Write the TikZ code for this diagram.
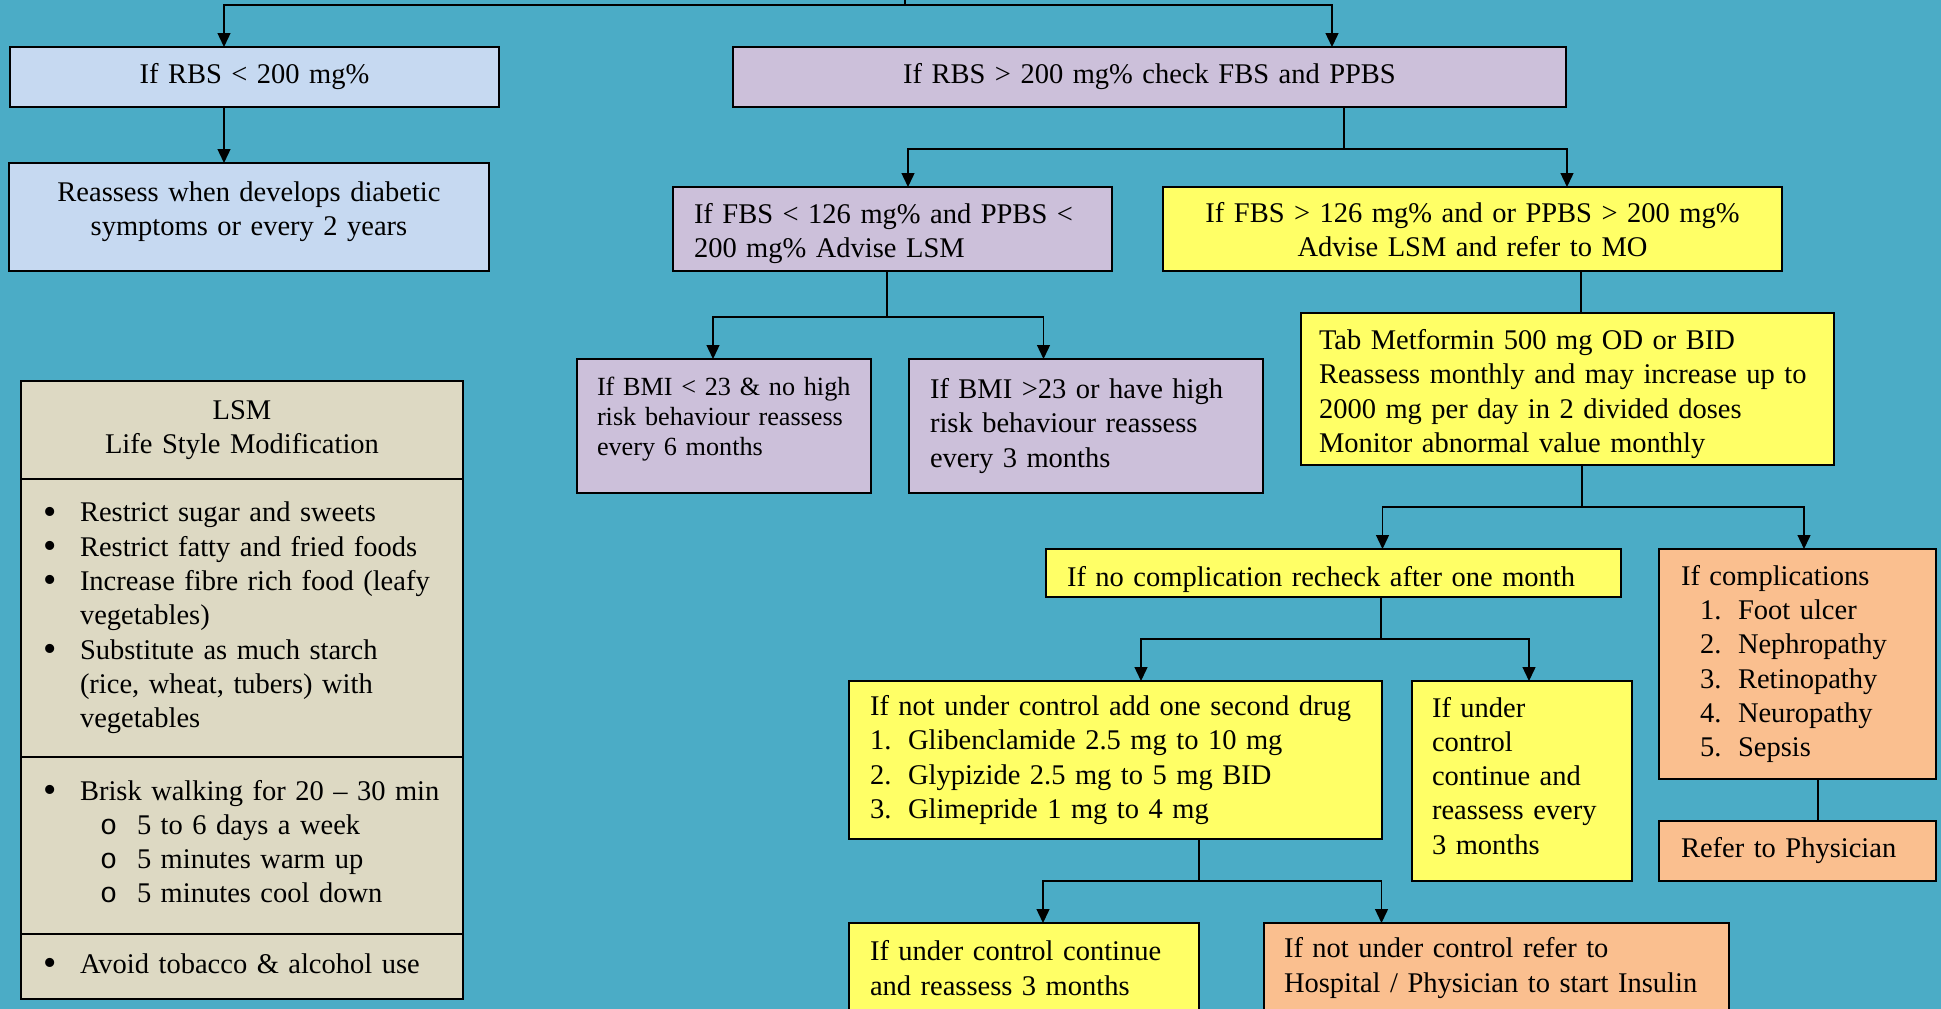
\documentclass[tikz,border=0pt]{standalone}
\usepackage{fontspec}
\setmainfont{Liberation Serif}
\setmonofont{Liberation Mono}
\usetikzlibrary{arrows.meta}

\definecolor{bgteal}{RGB}{75,172,198}
\definecolor{paleblue}{RGB}{198,217,241}
\definecolor{lavender}{RGB}{204,192,218}
\definecolor{lemon}{RGB}{255,255,102}
\definecolor{peach}{RGB}{250,191,143}
\definecolor{beige}{RGB}{221,217,195}

\newcommand{\itm}{\makebox[37pt][l]{\smash{\raisebox{-0.08em}{\fontsize{38}{34}\selectfont\textbullet}}}}
\newcommand{\cont}{\hspace*{37pt}}
\newcommand{\subitm}{\hspace*{57pt}\makebox[37pt][l]{\texttt{o}}}
\newcommand{\nitm}[2][0pt]{\hspace*{#1}\makebox[38pt][l]{#2}}

\begin{document}
\begin{tikzpicture}[x=1pt, y=-1pt,
  box/.style={draw, line width=1.8pt, anchor=north west, inner ysep=0pt, outer sep=0pt,
    font=\fontsize{28.5}{34.3}\selectfont},
  link/.style={line width=1.4pt},
  arr/.style={line width=1.4pt, -{Triangle[length=14pt,width=13pt]}}]
\useasboundingbox (0,0) rectangle (1941,1009);
\fill[bgteal] (0,0) rectangle (1941,1009);

% RBS screening
\node[box, fill=paleblue, text width=447pt, inner xsep=21pt, minimum height=60pt, align=center]
  (rbslow) at (10,47) {If RBS < 200 mg\%};
\node[box, fill=paleblue, text width=438pt, inner xsep=21pt, minimum height=108pt, align=center, text depth=51pt]
  (reassess) at (9,163) {Reassess when develops diabetic\\ symptoms or every 2 years};
\node[box, fill=lavender, text width=791pt, inner xsep=21pt, minimum height=60pt, align=center]
  (rbshigh) at (733,47) {If RBS > 200 mg\% check FBS and PPBS};

% FBS / PPBS
\node[box, fill=lavender, text width=397pt, inner xsep=21pt, minimum height=84pt, align=left, text depth=32pt]
  (fbslow) at (673,187) {If FBS < 126 mg\% and PPBS <\\ 200 mg\% Advise LSM};
\node[box, fill=lemon, text width=577pt, inner xsep=21pt, minimum height=84pt, align=center, text depth=33pt]
  (fbshigh) at (1163,187) {If FBS > 126 mg\% and or PPBS > 200 mg\%\\ Advise LSM and refer to MO};

% BMI
\node[box, fill=lavender, text width=254pt, inner xsep=20pt, minimum height=134pt, align=left,
  font=\fontsize{26.2}{30}\selectfont, text depth=80pt]
  (bmilow) at (577,359) {If BMI < 23 \& no high\\ risk behaviour reassess\\ every 6 months};
\node[box, fill=lavender, text width=312pt, inner xsep=21pt, minimum height=134pt, align=left]
  (bmihigh) at (909,359) {If BMI >23 or have high\\ risk behaviour reassess\\ every 3 months};

% Metformin and follow up
\node[box, fill=lemon, text width=497pt, inner xsep=18pt, minimum height=152pt, align=left, text depth=99pt]
  (metformin) at (1301,313) {Tab Metformin 500 mg OD or BID\\ Reassess monthly and may increase up to\\
  2000 mg per day in 2 divided doses\\ Monitor abnormal value monthly};
\node[box, fill=lemon, text width=533pt, inner xsep=21pt, minimum height=48pt, align=left,
  text height=26pt, text depth=0pt]
  (nocomp) at (1046,549) {If no complication recheck after one month};
\node[box, fill=peach, text width=233pt, inner xsep=22pt, minimum height=230pt, align=left]
  (comp) at (1659,549) {If complications\\ \nitm[19pt]{1.}Foot ulcer\\ \nitm[19pt]{2.}Nephropathy\\
  \nitm[19pt]{3.}Retinopathy\\ \nitm[19pt]{4.}Neuropathy\\ \nitm[19pt]{5.}Sepsis};
\node[box, fill=peach, text width=233pt, inner xsep=22pt, minimum height=60pt, align=left]
  (physician) at (1659,821) {Refer to Physician};

% second drug
\node[box, fill=lemon, text width=491pt, inner xsep=21pt, minimum height=158pt, align=left]
  (seconddrug) at (849,681) {If not under control add one second drug\\ \nitm{1.}Glibenclamide 2.5 mg to 10 mg\\
  \nitm{2.}Glypizide 2.5 mg to 5 mg BID\\ \nitm{3.}Glimepride 1 mg to 4 mg};
\node[box, fill=lemon, text width=180pt, inner xsep=20pt, minimum height=200pt, align=left, text depth=148pt]
  (controlled) at (1412,681) {If under\\ control\\ continue and\\ reassess every\\ 3 months};
\node[box, fill=lemon, text width=308pt, inner xsep=21pt, minimum height=90pt, align=left]
  (contin) at (849,923) {If under control continue\\ and reassess 3 months};
\node[box, fill=peach, text width=425pt, inner xsep=20pt, minimum height=90pt, align=left]
  (insulin) at (1264,923) {If not under control refer to\\ Hospital / Physician to start Insulin};

% LSM panel
\node[box, fill=beige, text width=398pt, inner xsep=22pt, minimum height=98pt, align=center]
  (lsmhead) at (21,381) {LSM\\ Life Style Modification};
\node[box, fill=beige, text width=398pt, inner xsep=22pt, minimum height=278pt, align=left]
  (lsmdiet) at (lsmhead.south west) {\itm Restrict sugar and sweets\\ \itm Restrict fatty and fried foods\\
  \itm Increase fibre rich food (leafy\\ \cont vegetables)\\ \itm Substitute as much starch\\
  \cont (rice, wheat, tubers) with\\ \cont vegetables};
\node[box, fill=beige, text width=398pt, inner xsep=22pt, minimum height=177pt, align=left, text depth=111pt]
  (lsmwalk) at (lsmdiet.south west) {\itm Brisk walking for 20 -- 30 min\\ \subitm 5 to 6 days a week\\
  \subitm 5 minutes warm up\\ \subitm 5 minutes cool down};
\node[box, fill=beige, text width=398pt, inner xsep=22pt, minimum height=65pt, align=left, text depth=6pt]
  (lsmhabit) at (lsmwalk.south west) {\itm Avoid tobacco \& alcohol use};

% connectors
\coordinate (feed) at (905,-30);
\coordinate (fork0) at (905,5);
\draw[link] (feed) -- (fork0);
\draw[arr] (fork0) -| ([xshift=-30.5pt]rbslow.north);
\draw[arr] (fork0) -| ([xshift=182.5pt]rbshigh.north);
\draw[arr] ([xshift=-30.5pt]rbslow.south) -- ([xshift=-25pt]reassess.north);

\draw[link] ([xshift=194.5pt]rbshigh.south) -- ++(0,42) coordinate (fork1);
\draw[arr] (fork1) -| ([xshift=15.5pt]fbslow.north);
\draw[arr] (fork1) -| ([xshift=94.5pt]fbshigh.north);

\draw[link] ([xshift=-5.5pt]fbslow.south) -- ++(0,46) coordinate (fork2);
\draw[arr] (fork2) -| ([xshift=-11pt]bmilow.north);
\draw[arr] (fork2) -| ([xshift=-42.5pt]bmihigh.north);

\draw[link] ([xshift=108.5pt]fbshigh.south) -- ([xshift=13.5pt]metformin.north);

\draw[link] ([xshift=14.5pt]metformin.south) -- ++(0,42) coordinate (fork3);
\draw[arr] (fork3) -| ([xshift=49pt]nocomp.north);
\draw[arr] (fork3) -| ([xshift=6.5pt]comp.north);

\draw[link] ([xshift=47.5pt]nocomp.south) -- ++(0,42) coordinate (fork4);
\draw[arr] (fork4) -| ([xshift=25.5pt]seconddrug.north);
\draw[arr] (fork4) -| ([xshift=7pt]controlled.north);

\draw[link] ([xshift=20.5pt]comp.south) -- ([xshift=20.5pt]physician.north);

\draw[link] ([xshift=83.5pt]seconddrug.south) -- ++(0,42) coordinate (fork5);
\draw[arr] (fork5) -| ([xshift=19pt]contin.north);
\draw[arr] (fork5) -| ([xshift=-115pt]insulin.north);
\end{tikzpicture}
\end{document}
